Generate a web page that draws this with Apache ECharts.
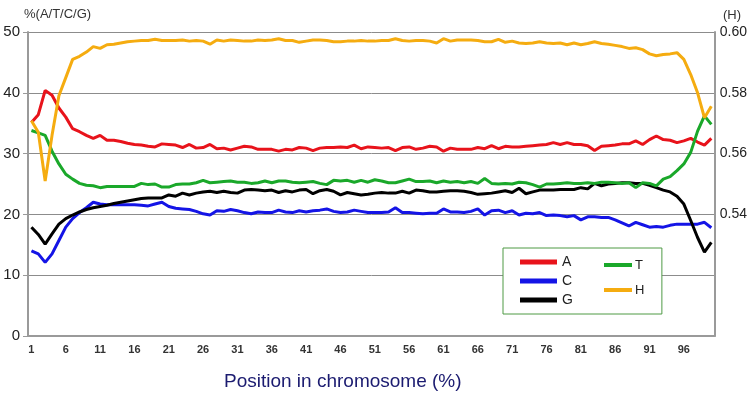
<!DOCTYPE html>
<html>

<head>
  <meta charset="utf-8" />
  <title>Base composition along chromosome</title>
  <script src="https://cdn.jsdelivr.net/npm/echarts@6/dist/echarts.min.js"></script>
</head>

<body style="margin:0;">
  <div id="chart" style="width:750px;height:393px;"></div>
  <script type="text/javascript">

    // Position in chromosome (%), 1..100
    let positions = Array.from({ length: 100 }, (_, i) => String(i + 1));

    // Base composition (%)
    let baseA = [35.1, 36.4, 40.4, 39.6, 37.5, 36, 34.1, 33.6, 33, 32.5, 33, 32.2, 32.2, 32, 31.7, 31.5, 31.4, 31.2,
      31.1, 31.6, 31.5, 31.4, 31, 31.5, 30.9, 31, 31.5, 30.8, 30.9, 30.6, 30.9, 31.2, 31.1, 30.7, 30.7,
      30.7, 30.4, 30.7, 30.6, 31, 30.9, 30.5, 30.9, 31, 31, 31.1, 31, 31.4, 30.8, 31.1, 31, 30.9, 31,
      30.5, 31, 31.1, 30.7, 30.9, 31.2, 31.1, 30.4, 30.9, 30.7, 30.7, 30.7, 31, 30.8, 31.3, 30.8, 31.2,
      31.1, 31.1, 31.2, 31.3, 31.4, 31.5, 31.8, 31.5, 31.8, 31.5, 31.5, 31.3, 30.5, 31.2, 31.3, 31.4, 31.6,
      31.6, 32.1, 31.5, 32.3, 32.9, 32.3, 32.2, 31.8, 32.1, 32.5, 31.9, 31.4, 32.5];
    let baseT = [33.8, 33.4, 33, 30.4, 28.3, 26.6, 25.8, 25.1, 24.8, 24.7, 24.4, 24.6, 24.6, 24.6, 24.6, 24.6, 25.1, 24.9,
      25, 24.5, 24.5, 24.9, 25, 25, 25.2, 25.6, 25.2, 25.3, 25.4, 25.5, 25.3, 25.3, 25.1, 25.2, 25.5,
      25.2, 25.5, 25.5, 25.3, 25.2, 25.3, 25.4, 25.1, 24.9, 25.6, 25.5, 25.6, 25.3, 25.6, 25.3, 25.7, 25.5, 25.2,
      25.2, 25.5, 25.8, 25.4, 25.4, 25.5, 25.2, 25.5, 25.3, 25.4, 25.2, 25.4, 25.1, 25.9, 25.1, 25, 25.1,
      25, 25.3, 25.2, 24.9, 24.5, 25, 25, 25.1, 25.2, 25.1, 25.1, 25.2, 25.1, 25.3, 25.3, 25.2, 25.1,
      25.2, 24.4, 25.2, 25.1, 24.7, 25.8, 26.2, 27.2, 28.3, 30.2, 33.7, 36.2, 34.8];
    let baseC = [14, 13.5, 12.1, 13.5, 15.7, 17.9, 19.3, 20.3, 21.1, 22, 21.7, 21.6, 21.6, 21.6, 21.6, 21.6, 21.5, 21.4,
      21.7, 22, 21.3, 21, 20.9, 20.8, 20.5, 20.1, 19.9, 20.6, 20.5, 20.8, 20.6, 20.3, 20.1, 20.4, 20.3,
      20.3, 20.7, 20.4, 20.3, 20.6, 20.4, 20.6, 20.7, 20.9, 20.5, 20.3, 20.4, 20.7, 20.5, 20.3, 20.3, 20.3, 20.4,
      21.1, 20.3, 20.3, 20.2, 20.1, 20.2, 20.2, 20.9, 20.4, 20.4, 20.3, 20.5, 20.9, 19.9, 20.6, 20.7, 20.3,
      20.6, 19.9, 20.2, 20.1, 20.3, 19.8, 19.9, 19.8, 19.6, 19.8, 19.1, 19.6, 19.6, 19.5, 19.5, 19.1, 18.6,
      18.1, 18.7, 18.3, 17.9, 18, 17.9, 18.2, 18.4, 18.4, 18.4, 18.4, 18.7, 17.8];
    let baseG = [17.9, 16.7, 15.1, 16.8, 18.4, 19.3, 19.9, 20.4, 20.8, 21.1, 21.3, 21.5, 21.8, 22, 22.2, 22.4, 22.6, 22.7,
      22.7, 22.7, 23.2, 23, 23.5, 23.2, 23.5, 23.7, 23.8, 23.6, 23.8, 23.6, 23.5, 24, 24.1, 24, 23.9,
      24, 23.6, 23.9, 23.7, 24, 24.1, 23.4, 23.9, 24.1, 23.8, 23.2, 23.6, 23.4, 23.2, 23.3, 23.5, 23.6, 23.5,
      23.5, 23.8, 23.5, 24, 23.9, 23.7, 23.7, 23.8, 23.9, 23.9, 23.8, 23.6, 23.3, 23.4, 23.5, 23.7, 23.9,
      23.6, 24.3, 23.4, 23.7, 24, 24, 24, 24.1, 24.1, 24.1, 24.4, 24.2, 25.1, 24.7, 25, 25.1, 25.2,
      25.2, 25.1, 25.1, 24.8, 24.4, 24, 23.7, 23, 21.7, 19, 16.2, 13.8, 15.4];
    // H on the right axis
    let valueH = [0.5708, 0.567, 0.551, 0.566, 0.579, 0.585, 0.591, 0.592, 0.5934, 0.5952, 0.5946, 0.5958, 0.596, 0.5964, 0.5968, 0.597, 0.5972, 0.5972,
      0.5976, 0.5972, 0.5972, 0.5972, 0.5974, 0.597, 0.5972, 0.597, 0.596, 0.5974, 0.597, 0.5974, 0.5972, 0.597, 0.597, 0.5974, 0.5972,
      0.5974, 0.5978, 0.5972, 0.5972, 0.5966, 0.597, 0.5974, 0.5974, 0.5972, 0.5968, 0.5968, 0.597, 0.597, 0.5972, 0.597, 0.597, 0.5972, 0.5972,
      0.5978, 0.5972, 0.597, 0.5972, 0.5972, 0.597, 0.5964, 0.5978, 0.597, 0.5974, 0.5974, 0.5974, 0.5972, 0.5968, 0.5968, 0.5976, 0.5966,
      0.597, 0.5964, 0.5962, 0.5964, 0.5968, 0.5964, 0.5962, 0.5964, 0.5958, 0.5964, 0.5958, 0.5962, 0.5968, 0.5962, 0.596, 0.5956, 0.5952,
      0.5946, 0.5948, 0.5942, 0.5928, 0.5922, 0.5926, 0.5928, 0.5932, 0.591, 0.586, 0.58, 0.5718, 0.5756];

    var chart = echarts.init(document.getElementById('chart'));
    var font = 'Liberation Sans, Arial, sans-serif';

    var option = {
      animation: false,
      textStyle: { fontFamily: font },
      title: [
        { text: '%(A/T/C/G)', left: 19, top: 3, textStyle: { fontSize: 13, fontWeight: 'normal', color: '#333', fontFamily: font } },
        { text: '(H)', left: 718, top: 4, textStyle: { fontSize: 13, fontWeight: 'normal', color: '#333', fontFamily: font } },
        { text: 'Position in chromosome (%)', left: 219, top: 367, textStyle: { fontSize: 19, fontWeight: 'normal', color: '#1b1b70', fontFamily: font } }
      ],
      legend: [
        {
          orient: 'vertical',
          left: 503,
          top: 248,
          data: ['A', 'C', 'G'],
          icon: 'rect',
          itemWidth: 37,
          itemHeight: 5,
          itemGap: 5,
          padding: [7, 89, 7, 17],
          borderColor: '#4f9a45',
          borderWidth: 1,
          backgroundColor: '#fff',
          textStyle: { fontSize: 14, color: '#222', lineHeight: 14, fontFamily: font }
        },
        {
          orient: 'vertical',
          left: 604,
          top: 256,
          data: ['T', 'H'],
          icon: 'rect',
          itemWidth: 28,
          itemHeight: 4,
          itemGap: 7,
          padding: 0,
          textStyle: { fontSize: 13, color: '#222', lineHeight: 14, fontFamily: font, padding: [0, 0, 4, -2] }
        }
      ],
      grid: {
        left: 28,
        right: 33,
        top: 32,
        bottom: 57
      },
      xAxis: {
        type: 'category',
        data: positions,
        boundaryGap: true,
        axisLine: { lineStyle: { color: '#9a9a9a', width: 2 } },
        axisTick: { interval: 0, length: 5, lineStyle: { color: '#9a9a9a' } },
        axisLabel: { interval: 4, fontSize: 11, fontWeight: 'bold', color: '#333', margin: 8, fontFamily: font },
        splitLine: { show: false }
      },
      yAxis: [
        {
          type: 'value',
          min: 0,
          max: 50,
          interval: 10,
          axisLine: { show: true, lineStyle: { color: '#9a9a9a', width: 2 } },
          axisTick: { show: true, length: 5, lineStyle: { color: '#9a9a9a' } },
          axisLabel: { fontSize: 15, color: '#222', margin: 8, fontFamily: font },
          splitLine: { lineStyle: { color: '#8c8c8c', width: 1 } }
        },
        {
          type: 'value',
          min: 0.5,
          max: 0.6,
          interval: 0.02,
          position: 'right',
          axisLine: { show: true, lineStyle: { color: '#9a9a9a', width: 2 } },
          axisTick: { show: false },
          axisLabel: {
            fontSize: 14, color: '#222', margin: 5, fontFamily: font,
            formatter: function (v) { return v >= 0.539 ? v.toFixed(2) : ''; }
          },
          splitLine: { show: false }
        }
      ],
      series: [
        { name: 'A', type: 'line', data: baseA, color: '#e8131b', symbol: 'none', lineStyle: { width: 3 } },
        { name: 'C', type: 'line', data: baseC, color: '#1414e6', symbol: 'none', lineStyle: { width: 3 } },
        { name: 'G', type: 'line', data: baseG, color: '#000000', symbol: 'none', lineStyle: { width: 3 } },
        { name: 'T', type: 'line', data: baseT, color: '#1aa82a', symbol: 'none', lineStyle: { width: 3 } },
        { name: 'H', type: 'line', data: valueH, yAxisIndex: 1, color: '#f5ac10', symbol: 'none', lineStyle: { width: 3 } }
      ]
    };

    chart.setOption(option);
  </script>
</body>

</html>
